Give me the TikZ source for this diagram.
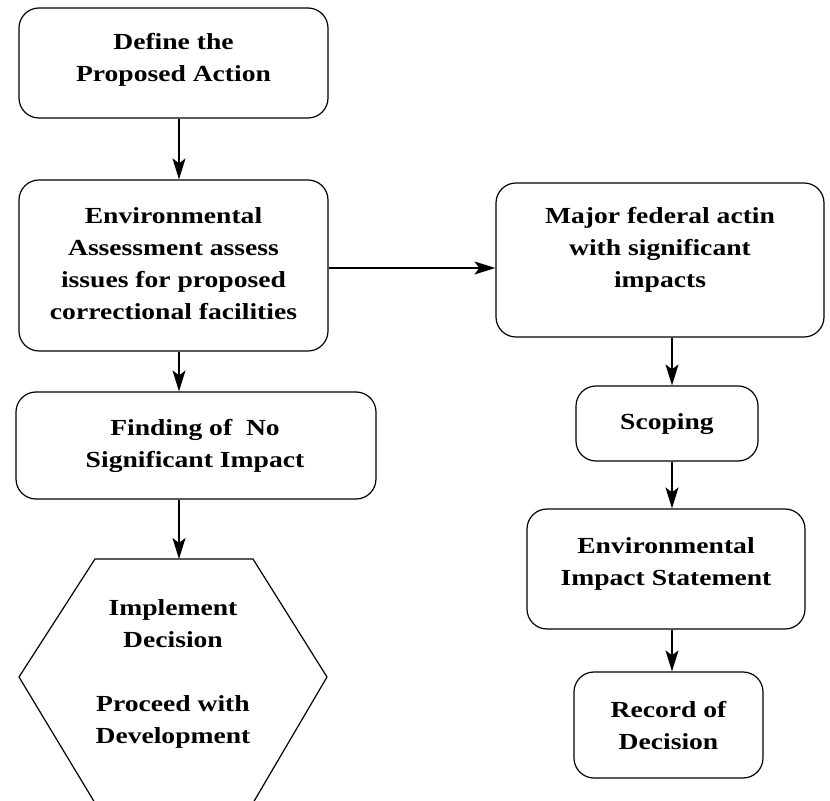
\documentclass[tikz,border=0pt]{standalone}
\usepackage{fontspec}
\setmainfont[FakeStretch=1.2]{Liberation Serif}
\usetikzlibrary{arrows.meta}
\begin{document}
\begin{tikzpicture}[x=0.5pt,y=-0.5pt,
  box/.style={draw=black, line width=0.6pt, rounded corners=10pt, inner sep=0pt},
  txt/.style={align=center, font=\fontsize{11.5}{16}\selectfont\bfseries, inner sep=0pt},
  arr/.style={draw=black, line width=0.8pt, -{Stealth[length=10.5pt,width=6.5pt,inset=2.5pt]}}]
\useasboundingbox (0,0) rectangle (830,801);
\clip (0,0) rectangle (830,801);
% helper coordinates for connector lines
\coordinate (al) at (179,0);
\coordinate (ar) at (672,0);
\coordinate (ah) at (0,268);
% left column
\node[box, minimum width=154.5pt, minimum height=55pt] (b1) at (173.5,63) {};
\node[txt] (t1) at (173.5,60) {Define the\\Proposed Action};
\node[box, minimum width=154.5pt, minimum height=85.5pt] (b2) at (173.5,265.5) {};
\node[txt] (t2) at (173.5,263.5) {Environmental\\Assessment assess\\issues for proposed\\correctional facilities};
\node[box, minimum width=180pt, minimum height=53.5pt] (b3) at (196,445.5) {};
\node[txt] (t3) at (195,446) {Finding of\ \ No\\Significant Impact};
% hexagon
\coordinate (h1) at (95,559);
\coordinate (h2) at (253,559);
\coordinate (h3) at (327,677);
\coordinate (h4) at (253,803);
\coordinate (h5) at (95,803);
\coordinate (h6) at (19,677);
\draw[line width=0.6pt] (h1) -- (h2) -- (h3) -- (h4) -- (h5) -- (h6) -- cycle;
\node[txt] (t8) at (173,674) {Implement\\Decision\\[16pt]Proceed with\\Development};
% right column
\node[box, minimum width=164pt, minimum height=77pt] (b4) at (660,260) {};
\node[txt] (t4) at (660,250) {Major federal actin\\with significant\\impacts};
\node[box, minimum width=91pt, minimum height=37.5pt] (b5) at (667,423.5) {};
\node[txt] (t5) at (667,424) {Scoping};
\node[box, minimum width=139pt, minimum height=60pt] (b6) at (666,569) {};
\node[txt] (t6) at (666,563.5) {Environmental\\Impact Statement};
\node[box, minimum width=94.5pt, minimum height=53pt] (b7) at (668.5,725) {};
\node[txt] (t7) at (668.5,726) {Record of\\Decision};
% connectors
\draw[arr] (b1.south -| al) -- (b2.north -| al);
\draw[arr] (b2.south -| al) -- (b3.north -| al);
\draw[arr] (b3.south -| al) -- (h1 -| al);
\draw[arr] (b2.east |- ah) -- (b4.west |- ah);
\draw[arr] (b4.south -| ar) -- (b5.north -| ar);
\draw[arr] (b5.south -| ar) -- (b6.north -| ar);
\draw[arr] (b6.south -| ar) -- (b7.north -| ar);
\end{tikzpicture}
\end{document}
